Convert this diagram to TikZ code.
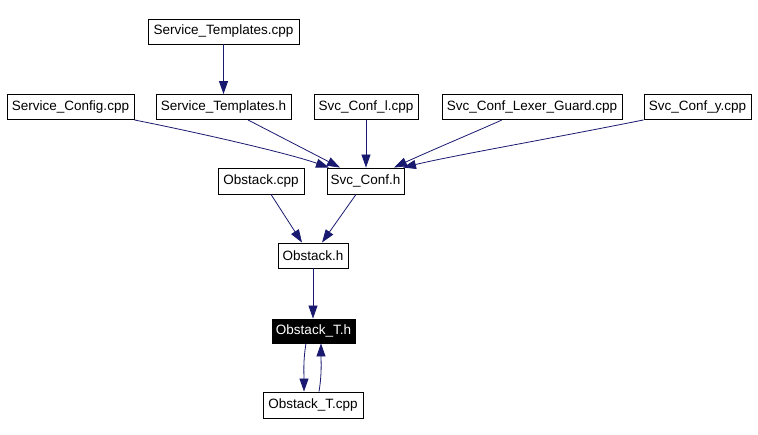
\documentclass[tikz,border=0pt]{standalone}
\usepackage{fontspec}
\setmainfont{Liberation Sans}
\usetikzlibrary{arrows.meta}
\definecolor{edgecol}{HTML}{191970}
\begin{document}
\begin{tikzpicture}[x=1pt,y=-1pt,
  box/.style={draw=black,line width=0.9pt,inner sep=0pt,font=\fontsize{13.5}{16}\selectfont,minimum height=25pt},
  sel/.style={box,fill=black,text=white},
  edge/.style={draw=edgecol,line width=0.8pt,-{Triangle[length=13pt,width=9pt]}}]
\useasboundingbox (0,0) rectangle (758,435);
\node[box,minimum width=151pt] (STcpp) at (223.5,31.5) {Service\_Templates.cpp};
\node[box,minimum width=127pt] (SCcpp) at (70.5,107) {Service\_Config.cpp};
\node[box,minimum width=135pt] (STh) at (223.5,107) {Service\_Templates.h};
\node[box,minimum width=104pt] (SCl) at (366,107) {Svc\_Conf\_l.cpp};
\node[box,minimum width=180pt] (SLG) at (532,107) {Svc\_Conf\_Lexer\_Guard.cpp};
\node[box,minimum width=107pt] (SCy) at (697.5,107) {Svc\_Conf\_y.cpp};
\node[box,minimum width=86pt,minimum height=26pt] (Ocpp) at (261,181) {Obstack.cpp};
\node[box,minimum width=77pt,minimum height=26pt] (SCh) at (365.5,181) {Svc\_Conf.h};
\node[box,minimum width=70pt] (Oh) at (313,255.5) {Obstack.h};
\node[sel,minimum width=83pt,minimum height=24pt] (OTh) at (313.5,331) {Obstack\_T.h};
\node[box,minimum width=100pt,minimum height=26pt] (OTcpp) at (313,405) {Obstack\_T.cpp};

\draw[edge] (STcpp.south) -- (STh.north);
\draw[edge] (SCcpp.south east) .. controls +(70,14) and +(-40,-14) .. ([xshift=-36.5pt]SCh.north);
\draw[edge] ([xshift=24.5pt]STh.south) -- ([xshift=-25.5pt]SCh.north);
\draw[edge] (SCl.south) -- (SCl.south |- SCh.north);
\draw[edge] ([xshift=-30pt]SLG.south) .. controls +(-20,9) and +(30,-14) .. ([xshift=28.5pt]SCh.north);
\draw[edge] (SCy.south west) .. controls +(-100,20) and +(50,-12) .. ([xshift=-1.5pt]SCh.north east);
\draw[edge] ([xshift=10pt]Ocpp.south) -- ([xshift=-11pt]Oh.north);
\draw[edge] ([xshift=-9.5pt]SCh.south) -- ([xshift=9pt]Oh.north);
\draw[edge] (Oh.south) -- (Oh.south |- OTh.north);
\draw[edge] ([xshift=-7.5pt]OTh.south) .. controls +(-3,18) and +(0,-18) .. ([xshift=-9pt]OTcpp.north);
\draw[edge] ([xshift=6pt]OTcpp.north) .. controls +(3,-18) and +(0,18) .. ([xshift=7.5pt]OTh.south);
\end{tikzpicture}
\end{document}
